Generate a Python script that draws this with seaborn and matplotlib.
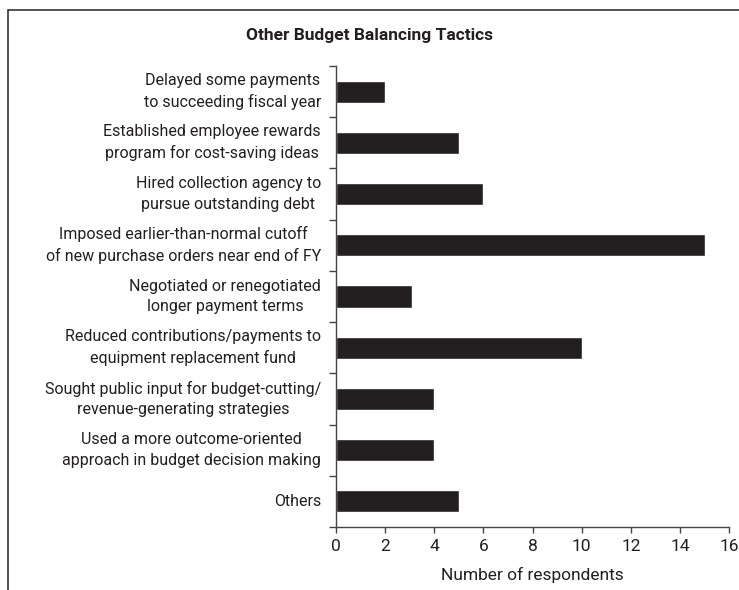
import matplotlib
matplotlib.use("Agg")
import matplotlib.pyplot as plt
import seaborn as sns
import pandas as pd
from matplotlib.patches import Rectangle

# Data
tactics = [
    "Delayed some payments\nto succeeding fiscal year",
    "Established employee rewards\nprogram for cost-saving ideas",
    "Hired collection agency to\npursue outstanding debt",
    "Imposed earlier-than-normal cutoff\nof new purchase orders near end of FY",
    "Negotiated or renegotiated\nlonger payment terms",
    "Reduced contributions/payments to\nequipment replacement fund",
    "Sought public input for budget-cutting/\nrevenue-generating strategies",
    "Used a more outcome-oriented\napproach in budget decision making",
    "Others",
]
respondents = [2, 5, 6, 15, 3.1, 10, 4, 4, 5]
x_ticks = [0, 2, 4, 6, 8, 10, 12, 14, 16]

df = pd.DataFrame({"tactic": tactics, "n": respondents})

# Style
sns.set_style("white")
plt.rcParams['font.family'] = ['Roboto', 'DejaVu Sans']
txt = "#231f20"

fig = plt.figure(figsize=(7.39, 5.90), dpi=100)
ax = fig.add_axes([0.4543, 0.1068, 0.5326, 0.7813])

sns.barplot(data=df, y="tactic", x="n", orient="h", color=txt,
            width=0.43, saturation=1, ax=ax)

ax.set_xlim(0, 16)
ax.set_ylim(len(tactics) - 0.5, -0.5)
ax.set_xticks(x_ticks)
ax.set_xticklabels([str(t) for t in x_ticks], fontsize=12.5, color=txt)

# y ticks at category boundaries, labels at centres
ax.set_yticks([i - 0.5 for i in range(len(tactics) + 1)])
ax.set_yticklabels([])
ax.tick_params(axis="y", left=True, length=5, width=1, color="#444444", direction="out")
ax.tick_params(axis="x", bottom=True, length=4, width=1, color="#444444", direction="out", pad=5)
for i, lab in enumerate(tactics):
    ax.text(-0.6, i, lab, ha="right", va="center", multialignment="center",
            fontsize=11.5, color=txt, linespacing=1.45)

for s in ["top", "right"]:
    ax.spines[s].set_visible(False)
for s in ["left", "bottom"]:
    ax.spines[s].set_color("#444444")
    ax.spines[s].set_linewidth(1)

ax.set_ylabel("")
ax.set_xlabel("Number of respondents", fontsize=12.5, color=txt, labelpad=9)

fig.text(0.5, 0.94, "Other Budget Balancing Tactics", ha="center", va="center",
         fontsize=12.5, fontweight="bold", color=txt)

# Frame around the figure (left and top visible)
fig.patches.append(Rectangle((0.011, -0.1), 1.2, 1.083, transform=fig.transFigure,
                             fill=False, edgecolor="#333333", linewidth=1.2))

fig.savefig("out.png", dpi=100)
